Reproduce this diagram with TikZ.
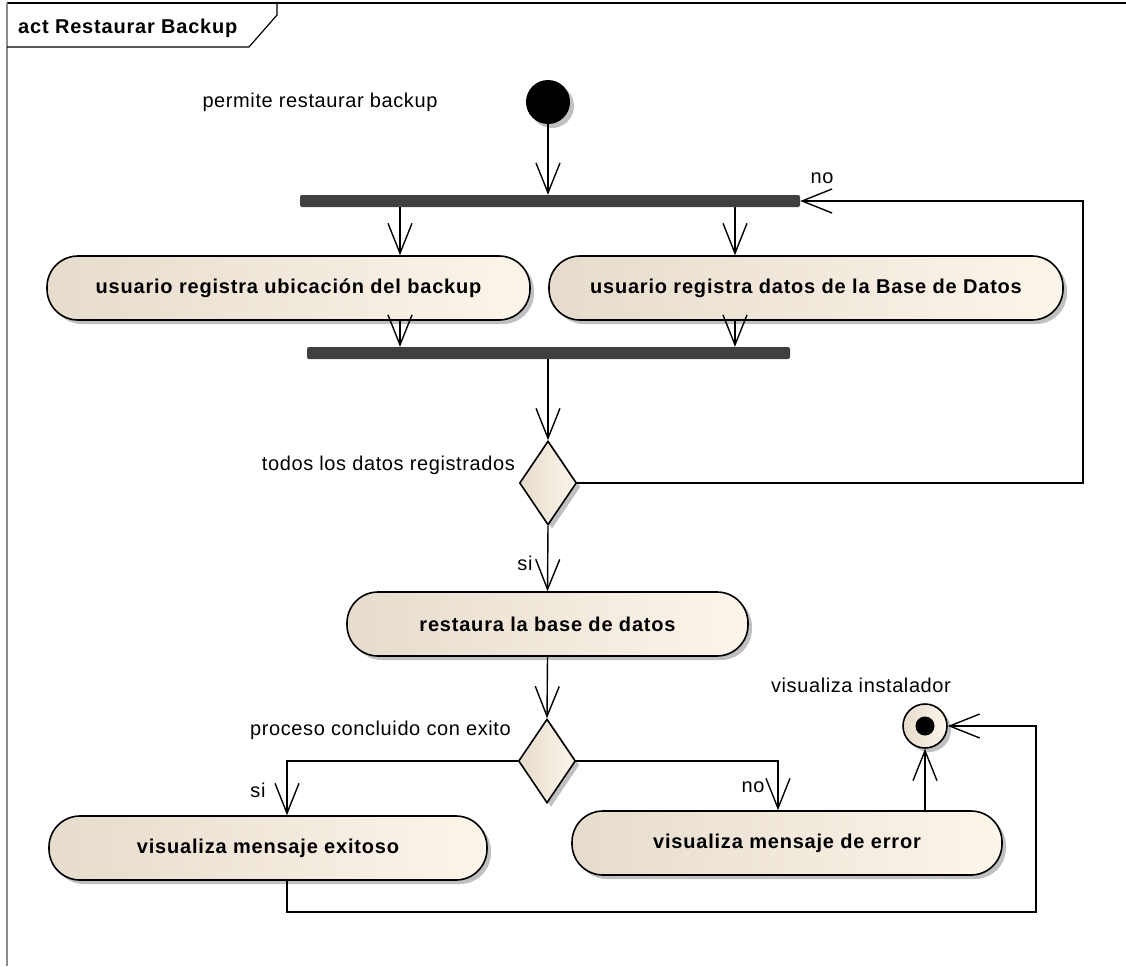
\documentclass[tikz,border=0pt]{standalone}
\usepackage{fontspec}
\setmainfont{Liberation Sans}
\newfontfamily\lblfont[LetterSpace=3]{Liberation Sans}
\newfontfamily\actfont[LetterSpace=4]{Liberation Sans}
\usetikzlibrary{arrows.meta,shapes.geometric,shadows,calc}
\definecolor{fillL}{HTML}{E6DCCD}
\definecolor{fillR}{HTML}{FCF5EA}
\definecolor{barc}{HTML}{404040}
\definecolor{shad}{HTML}{C0C0C0}
\begin{document}
\begin{tikzpicture}[x=1pt,y=-1pt,
  arr/.style={draw=black,line width=1.4pt,-{Straight Barb[length=30pt,width=24pt,line width=1.4pt]}},
  shadowed/.style={drop shadow={shadow xshift=4pt,shadow yshift=-4pt,fill=shad,opacity=1}},
  action/.style={shadowed,rectangle,rounded corners=31pt,draw=black,line width=1.6pt,
     left color=fillL,right color=fillR,inner sep=0pt,minimum height=64pt,
     font=\actfont\fontsize{20}{23}\selectfont\bfseries},
  decision/.style={shadowed,diamond,draw=black,line width=1.6pt,left color=fillL,right color=fillR,
     inner sep=0pt,minimum width=57pt,minimum height=84pt},
  forkbar/.style={rectangle,fill=barc,rounded corners=2pt,inner sep=0pt,minimum height=12pt},
  lbl/.style={font=\lblfont\fontsize{20}{23}\selectfont,inner sep=0pt},
  initnode/.style={shadowed,circle,fill=black,inner sep=0pt,minimum size=44pt},
]
\useasboundingbox (0,0) rectangle (1126,966);
% frame
\draw[line width=1.4pt,draw=black] (1126,3) -- (7,3);
\draw[line width=1.4pt,draw=black!45] (7,3) -- (7,966);
\draw[line width=1.2pt] (7,47) -- (249,47) -- (277,15) -- (277,3);
\node[anchor=west,inner sep=0pt,font=\actfont\fontsize{20}{23}\selectfont\bfseries] (title) at (18,28) {act Restaurar Backup};

% nodes
\node[initnode] (init) at (548,102) {};
\node[lbl] (lstart) at (320,102) {permite restaurar backup};
\node[forkbar,minimum width=500pt] (bar1) at (550,201) {};
\node[action,minimum width=483pt] (A1) at (288.5,288) {usuario registra ubicación del backup};
\node[action,minimum width=514pt] (A2) at (806,288) {usuario registra datos de la Base de Datos};
\node[forkbar,minimum width=483pt] (bar2) at (548.5,353) {};
\node[decision] (D1) at (548,483) {};
\node[lbl,anchor=east] (ldec1) at (515,465) {todos los datos registrados};
\node[action,minimum width=401pt] (R) at (547.5,624) {restaura la base de datos};
\node[decision] (D2) at (547,761) {};
\node[lbl,anchor=east] (ldec2) at (511,730) {proceso concluido con exito};
\node[action,minimum width=438pt] (A4) at (268,848) {visualiza mensaje exitoso};
\node[action,minimum width=430pt] (A5) at (787,843) {visualiza mensaje de error};
\node[shadowed,circle,draw=black,line width=1.6pt,left color=fillL,right color=fillR,inner sep=0pt,minimum size=44pt] (F) at (925,726) {};
\node[circle,fill=black,inner sep=0pt,minimum size=19pt] (Fin) at (F) {};
\node[lbl] (lfin) at (861,685) {visualiza instalador};

% helper coordinates
\coordinate (xa) at (400,0);
\coordinate (xb) at (735,0);
\coordinate (xl) at (1083,0);
\coordinate (xs) at (287,0);
\coordinate (xn) at (778,0);
\coordinate (xf) at (925,0);
\coordinate (xr) at (1036,0);
\coordinate (yb) at (0,912);

% edges
\draw[arr] (init.south) -- (init.south |- bar1.north);
\draw[arr] (bar1.south -| xa) -- (A1.north -| xa);
\draw[arr] (bar1.south -| xb) -- (A2.north -| xb);
\draw[arr] (A1.south -| xa) -- (bar2.north -| xa);
\draw[arr] (A2.south -| xb) -- (bar2.north -| xb);
\draw[arr] (bar2.south -| D1.north) -- (D1.north);
\draw[arr] (D1.east) -- (D1.east -| xl) |- (bar1.east);
\node[lbl] (lno1) at (822,178) {no};
\draw[arr] (D1.south) -- (R.north);
\node[lbl] (lsi1) at (525,563) {si};
\draw[arr] (R.south) -- (D2.north);
\draw[arr] (D2.west) -- (D2.west -| xs) -- (A4.north -| xs);
\node[lbl] (lsi2) at (258,790) {si};
\draw[arr] (D2.east) -- (D2.east -| xn) -- (A5.north -| xn);
\node[lbl] (lno2) at (753,787) {no};
\draw[arr] (A5.north -| xf) -- (F.south);
\draw[arr] (A4.south -| xs) -- (yb -| xs) -- (yb -| xr) |- (F.east);
\end{tikzpicture}
\end{document}
